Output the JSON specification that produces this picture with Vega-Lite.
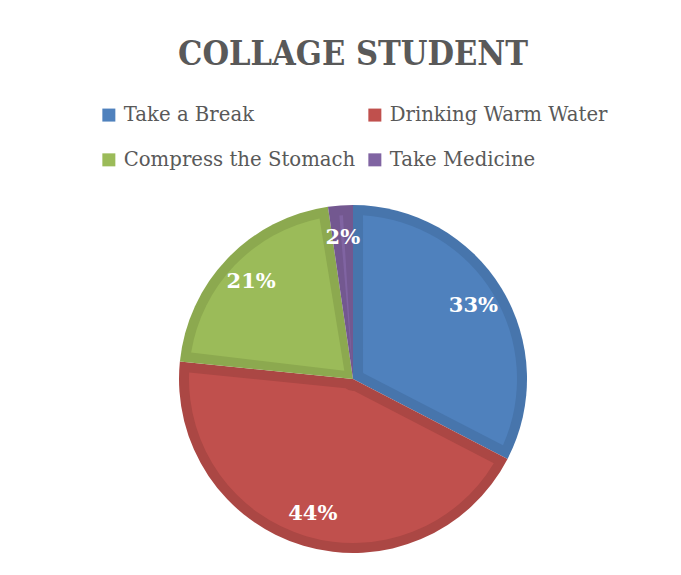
{
  "$schema": "https://vega.github.io/schema/vega-lite/v6.json",
  "width": 348,
  "height": 348,
  "autosize": {"type": "none"},
  "padding": {"left": 179, "top": 205, "right": 154, "bottom": 22},
  "background": "white",
  "title": {
    "text": "COLLAGE STUDENT",
    "anchor": "middle",
    "frame": "group",
    "font": "DejaVu Serif Condensed, DejaVu Serif",
    "fontSize": 34,
    "fontWeight": "bold",
    "color": "#595959",
    "offset": 33
  },
  "data": {
    "values": [
      {"category": "Take a Break", "value": 0.326, "order": 1},
      {"category": "Drinking Warm Water", "value": 0.44, "order": 2},
      {"category": "Compress the Stomach", "value": 0.211, "order": 3},
      {"category": "Take Medicine", "value": 0.023, "order": 4}
    ]
  },
  "encoding": {
    "theta": {"field": "value", "type": "quantitative", "stack": true},
    "order": {"field": "order", "type": "quantitative"}
  },
  "layer": [
    {
      "mark": {"type": "arc", "outerRadius": 174, "innerRadius": 0},
      "encoding": {
        "color": {
          "field": "category",
          "type": "nominal",
          "scale": {
            "domain": ["Take a Break", "Drinking Warm Water", "Compress the Stomach", "Take Medicine"],
            "range": ["#4775AC", "#AB4744", "#8CA94F", "#735890"]
          },
          "legend": null
        }
      }
    },
    {
      "mark": {"type": "arc", "outerRadius": 164, "innerRadius": 12, "padAngle": 0.122},
      "encoding": {
        "color": {
          "field": "category",
          "type": "nominal",
          "scale": {
            "domain": ["Take a Break", "Drinking Warm Water", "Compress the Stomach", "Take Medicine"],
            "range": ["#4F81BD", "#C0504D", "#9BBB59", "#8064A2"]
          },
          "legend": {
            "orient": "none",
            "legendX": -80,
            "legendY": -100,
            "direction": "horizontal",
            "columns": 2,
            "title": null,
            "symbolType": "square",
            "symbolSize": 169,
            "symbolStrokeWidth": 0,
            "symbolOpacity": 1,
            "labelFont": "DejaVu Serif",
            "labelFontSize": 19.7,
            "labelColor": "#595959",
            "labelOffset": 5,
            "labelLimit": 400,
            "columnPadding": 9,
            "rowPadding": 24,
            "padding": 0
          }
        }
      }
    },
    {
      "mark": {
        "type": "text",
        "radius": 141,
        "font": "DejaVu Serif",
        "fontSize": 21,
        "fontWeight": "bold",
        "color": "white"
      },
      "encoding": {
        "text": {"field": "value", "type": "quantitative", "format": ".0%"}
      }
    }
  ],
  "resolve": {"scale": {"color": "independent"}},
  "config": {"view": {"stroke": null}}
}
